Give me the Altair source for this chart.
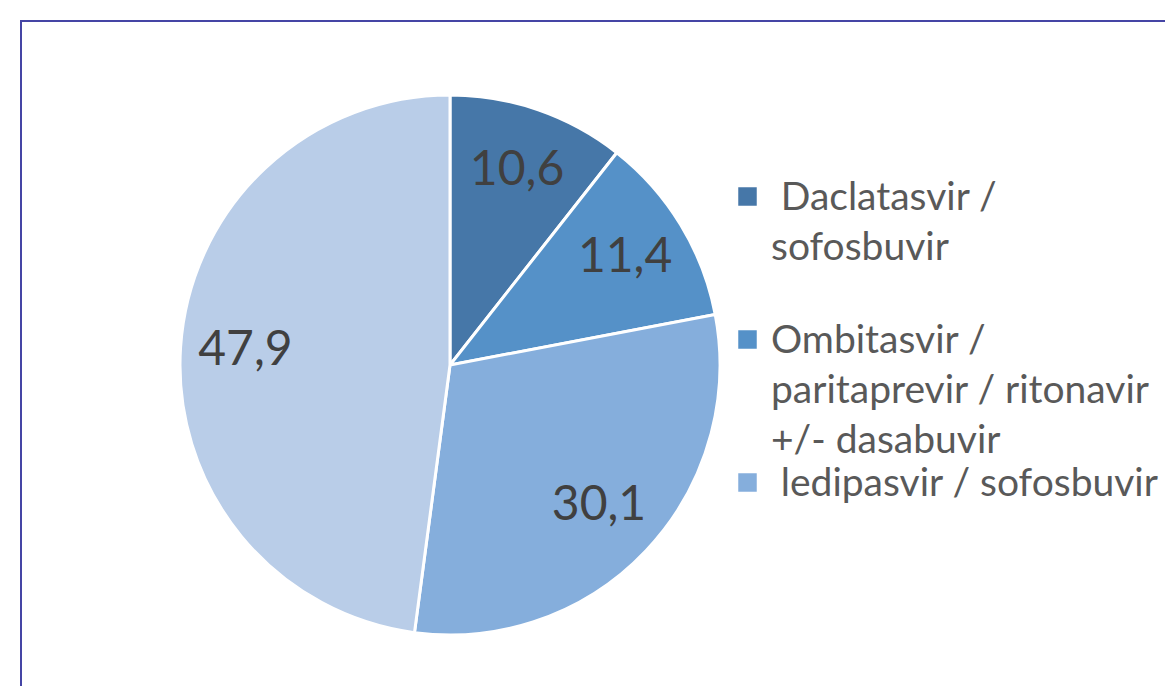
import altair as alt
import pandas as pd

categories = [
    "Daclatasvir / sofosbuvir",
    "Ombitasvir / paritaprevir / ritonavir +/- dasabuvir",
    "ledipasvir / sofosbuvir",
    "Other",
]
values = [10.6, 11.4, 30.1, 47.9]
value_labels = ["10,6", "11,4", "30,1", "47,9"]
legend_labels = [
    "\u200d\u2005Daclatasvir /\nsofosbuvir",
    "Ombitasvir /\nparitaprevir / ritonavir\n+/- dasabuvir",
    "\u200d\u2005ledipasvir / sofosbuvir",
    "",
]
colors = ["#4677A8", "#5591C8", "#85AEDC", "#B9CDE8"]

df = pd.DataFrame({
    "category": categories,
    "value": values,
    "value_label": value_labels,
    "legend_label": legend_labels,
    "order": list(range(len(categories))),
})

W, H = 1144, 665
cx = alt.value(429)
cy = alt.value(344)

color = alt.Color("category:N", scale=alt.Scale(domain=categories, range=colors), legend=None)
theta = alt.Theta("value:Q", stack=True)
order = alt.Order("order:Q")

base = alt.Chart(df)

pie = base.mark_arc(outerRadius=270, stroke="white", strokeWidth=3).encode(
    theta=theta, color=color, order=order, x=cx, y=cy
)

labels = base.mark_text(radius=205, font="Lato", fontSize=48, color="#404040").encode(
    theta=theta, order=order, text="value_label:N", x=cx, y=cy
)

legend_base = base.transform_filter("datum.legend_label != ''")
ys = alt.Y(
    "category:N",
    scale=alt.Scale(type="point", domain=categories[:3], range=[175.5, 461.5], padding=0),
    axis=None,
)

swatches = legend_base.mark_square(size=342, opacity=1).encode(
    x=alt.value(726.5), y=ys, color=color
)
leg_text = legend_base.mark_text(
    align="left", baseline="alphabetic", dy=13, font="Lato", fontSize=39,
    lineHeight=50, lineBreak="\n", color="#595959"
).encode(x=alt.value(750), y=ys, text="legend_label:N")

chart = alt.layer(pie, labels, swatches, leg_text).properties(
    width=W, height=H,
    padding={"left": 13, "top": 13, "right": 0, "bottom": 0},
    autosize=alt.AutoSizeParams(type="none"),
).configure_view(
    stroke="#4545A5", strokeWidth=2, strokeDash=[W, H + W, H]
)

chart.save("out.html", embed_options={"renderer": "svg", "actions": False})
